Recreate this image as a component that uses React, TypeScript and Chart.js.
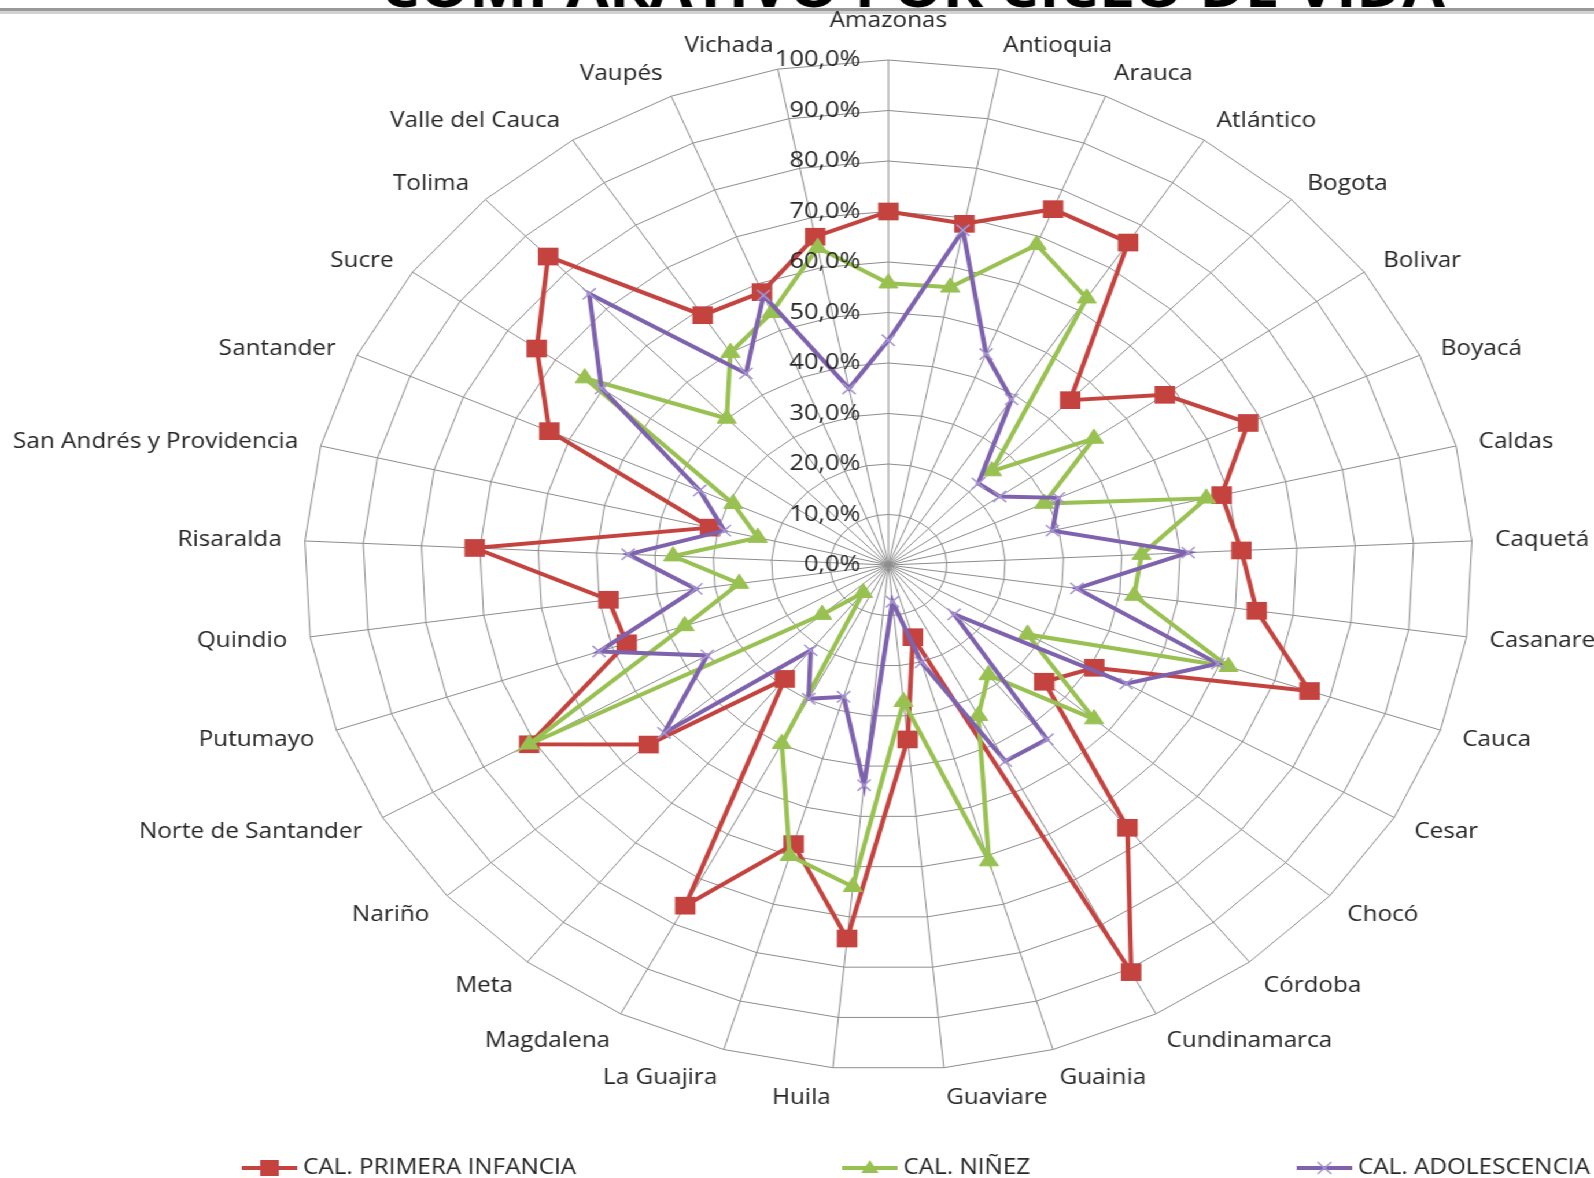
import React, { useEffect, useRef } from 'react';
import { Chart, registerables } from 'chart.js';

Chart.register(...registerables);

const TITLE = 'COMPARATIVO POR CICLO DE VIDA';

const CATEGORIES = [
  'Amazonas', 'Antioquia', 'Arauca', 'Atlántico', 'Bogota', 'Bolivar', 'Boyacá', 'Caldas',
  'Caquetá', 'Casanare', 'Cauca', 'Cesar', 'Chocó', 'Córdoba', 'Cundinamarca', 'Guainia',
  'Guaviare', 'Huila', 'La Guajira', 'Magdalena', 'Meta', 'Nariño', 'Norte de Santander',
  'Putumayo', 'Quindio', 'Risaralda', 'San Andrés y Providencia', 'Santander', 'Sucre',
  'Tolima', 'Valle del Cauca', 'Vaupés', 'Vichada',
];

const PRIMERA_INFANCIA = [
  70.0, 68.8, 75.9, 75.9, 45.1, 58.1, 67.7, 58.7,
  60.5, 63.7, 76.3, 40.7, 35.3, 66.2, 90.7, 14.9,
  34.7, 74.3, 57.6, 75.9, 28.7, 54.3, 71.0,
  47.4, 48.4, 70.9, 31.4, 63.8, 73.9,
  84.4, 58.8, 58.2, 66.2,
];

const NINEZ = [
  55.8, 56.0, 68.3, 62.8, 25.7, 43.2, 29.3, 56.0,
  43.4, 42.5, 61.6, 27.5, 46.6, 27.7, 33.6, 61.1,
  27.2, 64.0, 60.0, 39.8, 7.0, 15.0, 71.0,
  36.9, 25.8, 36.9, 23.0, 29.2, 63.8,
  40.1, 50.0, 53.8, 64.0,
];

const ADOLESCENCIA = [
  44.5, 67.5, 45.0, 39.0, 22.3, 23.4, 32.0, 28.9,
  51.4, 32.6, 59.7, 47.0, 14.9, 43.9, 43.7, 20.1,
  7.3, 43.8, 27.2, 29.8, 21.5, 50.8, 35.8,
  52.4, 33.3, 44.6, 28.9, 35.5, 60.3,
  74.2, 45.1, 57.5, 35.6,
];

const SERIES_NAMES = ['CAL. PRIMERA INFANCIA', 'CAL. NIÑEZ', 'CAL. ADOLESCENCIA'];
const AXIS_MIN = 0;
const AXIS_MAX = 100;
const AXIS_STEP = 10;

const RED = '#C4433F';
const GREEN = '#98C152';
const PURPLE = '#7E62AE';
const PURPLE_MARK = '#A796CF';
const GRID = '#8c8c8c';
const TEXT = '#262626';

const PAGE_W = 1594;
const PAGE_H = 1178;
const CANVAS_W = 1378;
const STRETCH = PAGE_W / CANVAS_W;
const FONT = '"Open Sans", "Noto Sans", sans-serif';

const fmtPct = (v: number) => v.toFixed(1).replace('.', ',') + '%';

function drawMarker(ctx: CanvasRenderingContext2D, kind: string, x: number, y: number, color: string) {
  ctx.save();
  if (kind === 'rect') {
    ctx.fillStyle = color;
    ctx.fillRect(x - 8, y - 8, 16, 16);
  } else if (kind === 'triangle') {
    ctx.fillStyle = color;
    ctx.beginPath();
    ctx.moveTo(x, y - 8);
    ctx.lineTo(x + 7.5, y + 5);
    ctx.lineTo(x - 7.5, y + 5);
    ctx.closePath();
    ctx.fill();
  } else {
    ctx.strokeStyle = color;
    ctx.lineWidth = 1.5;
    ctx.beginPath();
    ctx.moveTo(x - 6, y - 6);
    ctx.lineTo(x + 6, y + 6);
    ctx.moveTo(x + 6, y - 6);
    ctx.lineTo(x - 6, y + 6);
    ctx.stroke();
  }
  ctx.restore();
}

const decorPlugin = {
  id: 'decor',
  afterDraw(chart: any) {
    const ctx: CanvasRenderingContext2D = chart.ctx;
    const scale = chart.scales.r;
    ctx.save();

    // clipped title and top rule
    ctx.font = `bold 53.5px ${FONT}`;
    ctx.fillStyle = '#000';
    ctx.textAlign = 'center';
    ctx.textBaseline = 'alphabetic';
    ctx.fillText(TITLE, 789, 7);
    ctx.fillStyle = '#9a9a9a';
    ctx.fillRect(0, 8, CANVAS_W, 3);
    ctx.fillStyle = '#d2d2d2';
    ctx.fillRect(0, 11, CANVAS_W, 3);

    // value axis labels
    ctx.font = `22px ${FONT}`;
    ctx.fillStyle = TEXT;
    ctx.textAlign = 'right';
    ctx.textBaseline = 'middle';
    scale.ticks.forEach((t: any) => {
      const d = scale.getDistanceFromCenterForValue(t.value);
      ctx.fillText(fmtPct(t.value), scale.xCenter - 24, scale.yCenter - d);
    });

    // category labels
    ctx.font = `21px ${FONT}`;
    CATEGORIES.forEach((c, i) => {
      const a = scale.getIndexAngle(i);
      const p = scale.getPointPosition(i, scale.drawingArea + 20);
      const s = Math.sin(a);
      const co = Math.cos(a);
      const centered = Math.abs(s) <= 0.05;
      ctx.textAlign = s > 0.05 ? 'left' : s < -0.05 ? 'right' : 'center';
      let y = p.y - 10 * co;
      if (centered) {
        y -= 9 * Math.sign(co);
      } else if (co > 0) {
        y += 6 * Math.min(1, co / 0.4);
      }
      ctx.fillText(c, p.x, y);
    });

    // legend
    const colors = [RED, GREEN, PURPLE];
    const marks = ['rect', 'triangle', 'cross'];
    const markColors = [RED, GREEN, PURPLE_MARK];
    const starts = [209, 728, 1121];
    const ly = 1168;
    ctx.font = `21px ${FONT}`;
    ctx.textAlign = 'left';
    ctx.textBaseline = 'middle';
    SERIES_NAMES.forEach((name, i) => {
      const x0 = starts[i];
      ctx.strokeStyle = colors[i];
      ctx.lineWidth = 4;
      ctx.beginPath();
      ctx.moveTo(x0, ly);
      ctx.lineTo(x0 + 48, ly);
      ctx.stroke();
      drawMarker(ctx, marks[i], x0 + 24, ly, markColors[i]);
      ctx.fillStyle = TEXT;
      ctx.fillText(name, x0 + 53, ly);
    });

    ctx.restore();
  },
};

export default function App() {
  const canvasRef = useRef<HTMLCanvasElement | null>(null);

  useEffect(() => {
    const canvas = canvasRef.current;
    if (!canvas) return;
    const chart = new Chart(canvas, {
      type: 'radar',
      data: {
        labels: CATEGORIES,
        datasets: [
          {
            label: SERIES_NAMES[0],
            data: PRIMERA_INFANCIA,
            borderColor: RED,
            backgroundColor: RED,
            borderWidth: 4,
            fill: false,
            tension: 0,
            pointStyle: 'rect',
            pointRadius: 12.5,
            pointBackgroundColor: RED,
            pointBorderColor: RED,
            pointBorderWidth: 0,
            order: 3,
          },
          {
            label: SERIES_NAMES[1],
            data: NINEZ,
            borderColor: GREEN,
            backgroundColor: GREEN,
            borderWidth: 4,
            fill: false,
            tension: 0,
            pointStyle: 'triangle',
            pointRadius: 9.5,
            pointBackgroundColor: GREEN,
            pointBorderColor: GREEN,
            pointBorderWidth: 1,
            order: 2,
          },
          {
            label: SERIES_NAMES[2],
            data: ADOLESCENCIA,
            borderColor: PURPLE,
            backgroundColor: PURPLE,
            borderWidth: 4,
            fill: false,
            tension: 0,
            pointStyle: 'crossRot',
            pointRadius: 8,
            pointBorderColor: PURPLE_MARK,
            pointBorderWidth: 1.5,
            order: 1,
          },
        ],
      },
      options: {
        responsive: false,
        animation: false,
        devicePixelRatio: 1,
        plugins: {
          legend: { display: false },
          tooltip: { enabled: false },
          title: { display: false },
        },
        scales: {
          r: {
            min: AXIS_MIN,
            max: AXIS_MAX,
            ticks: { stepSize: AXIS_STEP, display: false },
            grid: { color: GRID, lineWidth: 1, circular: false },
            angleLines: { color: GRID, lineWidth: 1 },
            pointLabels: { display: false },
            afterFit: (scale: any) => {
              scale.xCenter = 768;
              scale.yCenter = 565;
              scale.drawingArea = 505;
            },
          },
        },
      },
      plugins: [decorPlugin],
    });
    return () => chart.destroy();
  }, []);

  return (
    <div
      style={{
        position: 'absolute',
        left: 0,
        top: 0,
        width: CANVAS_W,
        height: PAGE_H,
        transform: `scaleX(${STRETCH})`,
        transformOrigin: '0 0',
        background: '#fff',
      }}
    >
      <canvas
        ref={canvasRef}
        width={CANVAS_W}
        height={PAGE_H}
        style={{ width: CANVAS_W, height: PAGE_H, display: 'block' }}
      />
    </div>
  );
}
